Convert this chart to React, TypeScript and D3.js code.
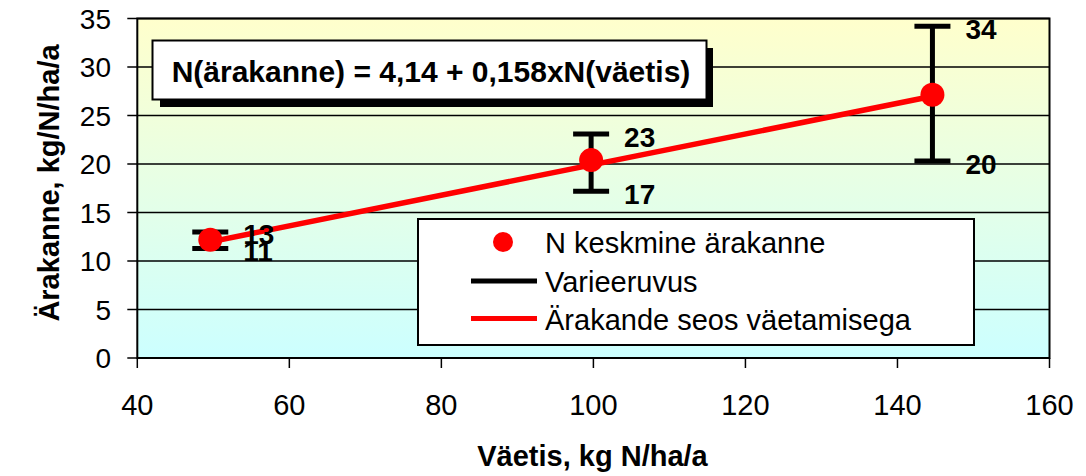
import React from "react";
import * as d3 from "d3";

const xValues = [49.6, 99.7, 144.6];
const meanValues = [12.2, 20.4, 27.15];
const lowValues = [11.3, 17.2, 20.3];
const highValues = [13.0, 23.1, 34.2];
const lowLabels = ["11", "17", "20"];
const highLabels = ["13", "23", "34"];
const xTicks = [40, 60, 80, 100, 120, 140, 160];
const yTicks = [0, 5, 10, 15, 20, 25, 30, 35];
const intercept = 4.14;
const slope = 0.158;
const equationText = "N(ärakanne) = 4,14 + 0,158xN(väetis)";
const legendLabels = ["N keskmine ärakanne", "Varieeruvus", "Ärakande seos väetamisega"];
const xTitle = "Väetis, kg N/ha/a";
const yTitle = "Ärakanne, kg/N/ha/a";

const W = 1086;
const H = 476;
const left = 137.3;
const right = 1049.5;
const top = 18.5;
const bottom = 358;
const font = "'Liberation Sans', Arial, sans-serif";

export default function App() {
  const x = d3.scaleLinear().domain([40, 160]).range([left, right]);
  const y = d3.scaleLinear().domain([0, 35]).range([bottom, top]);
  const x0 = xValues[0];
  const x1 = xValues[xValues.length - 1];
  const lineGen = d3.line<number>().x((d) => x(d)).y((d) => y(intercept + slope * d));
  const legendRows = [242, 281, 318.5];

  return (
    <svg width={W} height={H} style={{ position: "absolute", left: 0, top: 0 }} fontFamily={font}>
      <defs>
        <linearGradient id="bg" x1="0" y1="0" x2="0" y2="1">
          <stop offset="0%" stopColor="#ffffcc" />
          <stop offset="50%" stopColor="#e6ffe6" />
          <stop offset="100%" stopColor="#ccffff" />
        </linearGradient>
      </defs>
      <rect x={0} y={0} width={W} height={H} fill="#fff" />
      <rect x={left} y={top} width={right - left} height={bottom - top} fill="url(#bg)" />
      {yTicks.map((t) => (
        <g key={"y" + t}>
          <line x1={left - 10} x2={right} y1={y(t)} y2={y(t)} stroke="#000" strokeWidth={1.5} />
          <text x={111} y={y(t)} dy="0.36em" textAnchor="end" fontSize={28}>
            {t}
          </text>
        </g>
      ))}
      {xTicks.map((t) => (
        <g key={"x" + t}>
          <line x1={x(t)} x2={x(t)} y1={bottom} y2={bottom + 10} stroke="#000" strokeWidth={1.5} />
          <text x={x(t)} y={415} textAnchor="middle" fontSize={29}>
            {t}
          </text>
        </g>
      ))}
      <rect x={left} y={top} width={right - left} height={bottom - top} fill="none" stroke="#000" strokeWidth={2} />

      {/* equation box */}
      <rect x={160} y={48} width={553} height={59} fill="#000" />
      <rect x={152.5} y={40.5} width={554} height={59} fill="#fff" stroke="#000" strokeWidth={2} />
      <text x={431} y={71} dy="0.35em" textAnchor="middle" fontSize={30} fontWeight="bold">
        {equationText}
      </text>

      {/* regression line */}
      <path d={lineGen([x0, x1]) || ""} stroke="#ff0000" strokeWidth={5.5} fill="none" />

      {/* error bars */}
      {xValues.map((xv, i) => (
        <g key={"e" + i}>
          <line x1={x(xv)} x2={x(xv)} y1={y(lowValues[i])} y2={y(highValues[i])} stroke="#000" strokeWidth={5} />
          <line x1={x(xv) - 18} x2={x(xv) + 18} y1={y(lowValues[i])} y2={y(lowValues[i])} stroke="#000" strokeWidth={5} />
          <line x1={x(xv) - 18} x2={x(xv) + 18} y1={y(highValues[i])} y2={y(highValues[i])} stroke="#000" strokeWidth={5} />
        </g>
      ))}
      {xValues.map((xv, i) => (
        <circle key={"p" + i} cx={x(xv)} cy={y(meanValues[i])} r={12} fill="#ff0000" />
      ))}
      {xValues.map((xv, i) => (
        <g key={"l" + i} fontSize={28} fontWeight="bold">
          <text x={x(xv) + 33} y={y(highValues[i]) + 2.5} dy="0.36em">
            {highLabels[i]}
          </text>
          <text x={x(xv) + 33} y={y(lowValues[i]) + 2.5} dy="0.36em">
            {lowLabels[i]}
          </text>
        </g>
      ))}

      {/* legend */}
      <rect x={418} y={219} width={556} height={126} fill="#fff" stroke="#000" strokeWidth={2} />
      <circle cx={503} cy={legendRows[0]} r={10} fill="#ff0000" />
      <line x1={471} x2={537} y1={legendRows[1]} y2={legendRows[1]} stroke="#000" strokeWidth={5} />
      <line x1={471} x2={537} y1={legendRows[2]} y2={legendRows[2]} stroke="#ff0000" strokeWidth={5} />
      {legendLabels.map((l, i) => (
        <text key={l} x={545} y={legendRows[i] + 1} dy="0.35em" fontSize={29}>
          {l}
        </text>
      ))}

      {/* axis titles */}
      <text x={592.5} y={466} textAnchor="middle" fontSize={29} fontWeight="bold">
        {xTitle}
      </text>
      <text
        transform={`translate(59, 183) rotate(-90)`}
        textAnchor="middle"
        fontSize={29}
        fontWeight="bold"
      >
        {yTitle}
      </text>
    </svg>
  );
}
